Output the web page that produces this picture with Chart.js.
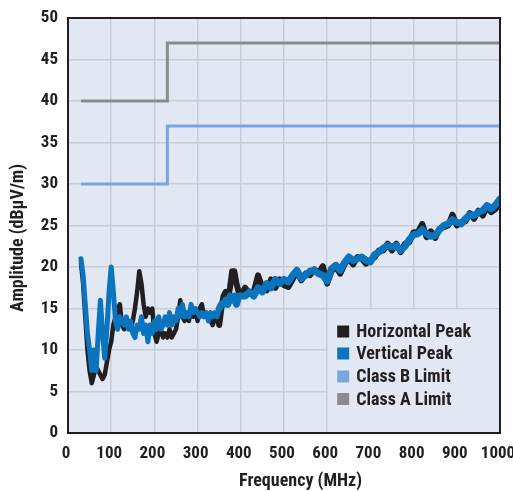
<!DOCTYPE html>
<html>
<head>
<meta charset="utf-8">
<script src="https://cdn.jsdelivr.net/npm/chart.js@4/dist/chart.umd.min.js"></script>
<style>
  html, body { margin: 0; padding: 0; background: #ffffff; }
  #wrap { width: 513px; height: 491px; }
</style>
</head>
<body>
<div id="wrap"><canvas id="c" width="513" height="491"></canvas></div>
<script>
// ---- Data ----
const freqMHz = [
  30,35,40,45,50,55,60,65,70,75,80,85,90,95,100,105,110,115,120,125,
  130,135,140,145,150,155,160,165,170,175,180,185,190,195,200,205,210,215,220,225,
  230,235,240,245,250,255,260,265,270,275,280,285,290,295,300,305,310,315,320,325,
  330,335,340,345,350,355,360,365,370,375,380,385,390,395,400,
  410,420,430,440,450,460,470,480,490,500,
  510,520,530,540,550,560,570,580,590,600,
  610,620,630,640,650,660,670,680,690,700,
  710,720,730,740,750,760,770,780,790,800,
  810,820,830,840,850,860,870,880,890,900,
  910,920,930,940,950,960,970,980,990,1000
];

const horizontalPeak = [
  20.5,18,14,10,7.5,6,7,8,7.5,7,6.5,7,8.5,10,11,13,14,15,15.5,13,
  12.5,13.5,13,12.5,13.5,15,17,19.5,18,15.5,14,15,14.5,15,12,11,12,12.5,11.5,12,
  11.5,12.5,11.5,12,12.5,14,16,14,13.5,14,13.5,15,14,14.5,13.5,15,15.5,14,14.5,14,
  13.5,13,14,13.5,13,15,16.5,17,16,17.5,19.5,19.5,18,17,16.5,
  17.5,16.8,17,19,17.5,17.2,18.5,17.5,18.5,17.8,
  17.6,18.5,19.5,18.4,19.2,19,19.7,19.3,20.1,18,
  19.5,20,19.2,20.3,21,20.3,21.2,21,20.4,20.8,
  21.2,22,22,22.8,22,22.8,21.8,22.8,23,24.2,
  24.2,25.2,23.6,24.3,23.5,24.6,24.8,25,26.3,25,
  25.4,25.5,26.5,25.8,26.8,26.2,27.2,26.6,27,27.8
];

const verticalPeak = [
  21,19,15.5,12,10,7.5,10,7.5,12,16,12,9,12.5,17,20,17,13.5,12.5,14,13.5,
  13,14,12.5,13.5,12,11.5,13,12.5,14,12,13,11,13,12,13.5,12.5,14,12.5,13,14,
  13,14.5,13,14,13.5,15,14,15.5,14,14.5,14,15.5,14.5,15,14.5,14,14.5,14,14.5,13.5,
  14.5,14,14.5,14,15,15.5,15.5,16,15.5,16.5,16,16.5,15.5,16.5,16.5,
  16.5,17,16.5,17.5,17,18,17.5,18.5,18,18.5,
  18.2,19,19.6,18.6,19,19.5,19.6,19.2,19,18.3,
  19.8,20.2,19.6,20.5,21.2,20.8,21,21.2,20.8,20.6,
  21.5,21.8,22.3,22.6,22.4,22.6,22,22.5,23.3,23.9,
  24,24.5,24,23.7,23.8,24.5,25,25.2,25.7,25.4,
  25.2,25.8,26.3,26.2,26.6,26.8,27.4,27,27.5,28.2
];

const limitFreq = [30, 230, 230, 1000];
const classBLimit = [30, 30, 37, 37];
const classALimit = [40, 40, 47, 47];

const xTicks = [0,100,200,300,400,500,600,700,800,900,1000];
const yTicks = [0,5,10,15,20,25,30,35,40,45,50];

const seriesLabels = ['Horizontal Peak', 'Vertical Peak', 'Class B Limit', 'Class A Limit'];
const seriesColors = ['#231f20', '#0a74bf', '#79a6dc', '#8a8b8d'];

// ---- Chart ----
const FONT = "'Roboto Condensed', 'Open Sans Condensed', 'DejaVu Sans Condensed', sans-serif";
const TEXT = '#231f20';
const PLOT_BG = '#e1e8f4';
const GRID = '#c9cdd3';
const NB = '\u00A0';

function pts(xs, ys) { return xs.map((x, i) => ({ x: x, y: ys[i] })); }
// the measured traces look like a wider band above ~350 MHz (dense sweep jitter)
function traceWidth(narrow, wide) {
  return (ctx) => (ctx.p0.parsed.x >= 350 ? wide : narrow);
}

const plotPlugin = {
  id: 'plotDecor',
  beforeDraw(chart) {
    const { ctx, chartArea: a } = chart;
    ctx.save();
    ctx.fillStyle = PLOT_BG;
    ctx.fillRect(a.left, a.top, a.right - a.left, a.bottom - a.top);
    ctx.restore();
  },
  beforeDatasetsDraw(chart) {
    const { ctx, chartArea: a, scales } = chart;
    const x0 = scales.x.getPixelForValue(600);
    const y0 = scales.y.getPixelForValue(15);
    ctx.save();
    ctx.fillStyle = PLOT_BG;
    ctx.fillRect(x0 + 1, y0 + 1, a.right - x0 - 1, a.bottom - y0 - 1);
    ctx.restore();
  },
  afterDatasetsDraw(chart) {
    const { ctx, chartArea: a, scales } = chart;
    ctx.save();
    ctx.strokeStyle = TEXT;
    ctx.lineWidth = 2;
    ctx.strokeRect(a.left, a.top, a.right - a.left, a.bottom - a.top);
    const lx = scales.x.getPixelForValue(600) + 10;
    const rows = [331.5, 353.5, 376.5, 399];
    ctx.font = 'bold 18px ' + FONT;
    ctx.textBaseline = 'middle';
    ctx.textAlign = 'left';
    seriesLabels.forEach((lab, i) => {
      ctx.fillStyle = seriesColors[i];
      ctx.fillRect(lx, rows[i] - 6, 12, 12);
      ctx.fillStyle = TEXT;
      ctx.fillText(lab, lx + 19, rows[i] + 1);
    });
    ctx.restore();
  }
};

new Chart(document.getElementById('c'), {
  type: 'line',
  data: {
    datasets: [
      { label: seriesLabels[3], data: pts(limitFreq, classALimit), borderColor: seriesColors[3], borderWidth: 3, pointRadius: 0, tension: 0, order: 4 },
      { label: seriesLabels[2], data: pts(limitFreq, classBLimit), borderColor: seriesColors[2], borderWidth: 3, pointRadius: 0, tension: 0, order: 3 },
      { label: seriesLabels[0], data: pts(freqMHz, horizontalPeak), borderColor: seriesColors[0], borderWidth: 4.5, segment: { borderWidth: traceWidth(4.5, 6) }, pointRadius: 0, tension: 0, borderJoinStyle: 'round', borderCapStyle: 'round', order: 2 },
      { label: seriesLabels[1], data: pts(freqMHz, verticalPeak), borderColor: seriesColors[1], borderWidth: 5, segment: { borderWidth: traceWidth(5, 7) }, pointRadius: 0, tension: 0, borderJoinStyle: 'round', borderCapStyle: 'round', order: 1 }
    ]
  },
  options: {
    responsive: false,
    animation: false,
    events: [],
    layout: { padding: { top: 18, right: 13, left: 0, bottom: 0 } },
    plugins: { legend: { display: false }, tooltip: { enabled: false } },
    scales: {
      x: {
        type: 'linear', min: 0, max: 1000,
        afterBuildTicks: (s) => { s.ticks = xTicks.map(v => ({ value: v })); },
        afterFit: (s) => { s.height = 58; s.paddingLeft = 0; s.paddingRight = 0; },
        grid: { color: GRID, lineWidth: 1.5, drawTicks: false },
        border: { display: false },
        ticks: { color: TEXT, padding: 11, labelOffset: -2, maxRotation: 0, autoSkip: false, callback: (v) => String(v), font: { family: FONT, size: 17, weight: 'bold' } },
        title: { display: true, text: NB.repeat(8) + 'Frequency (MHz)', color: TEXT, padding: { top: 0, bottom: 1 }, font: { family: FONT, size: 18, weight: 'bold', lineHeight: 1.0 } }
      },
      y: {
        type: 'linear', min: 0, max: 50,
        afterBuildTicks: (s) => { s.ticks = yTicks.map(v => ({ value: v })); },
        afterFit: (s) => { s.width = 68; s.paddingTop = 0; s.paddingBottom = 0; },
        grid: { color: GRID, lineWidth: 1.5, drawTicks: false },
        border: { display: false },
        ticks: { color: TEXT, padding: 10, autoSkip: false, callback: (v) => String(v), font: { family: FONT, size: 17, weight: 'bold' } },
        title: { display: true, text: 'Amplitude (dBµV/m)' + NB.repeat(6), color: TEXT, padding: { top: 9, bottom: 0 }, font: { family: FONT, size: 18, weight: 'bold', lineHeight: 1.0 } }
      }
    }
  },
  plugins: [plotPlugin]
});
</script>
</body>
</html>
